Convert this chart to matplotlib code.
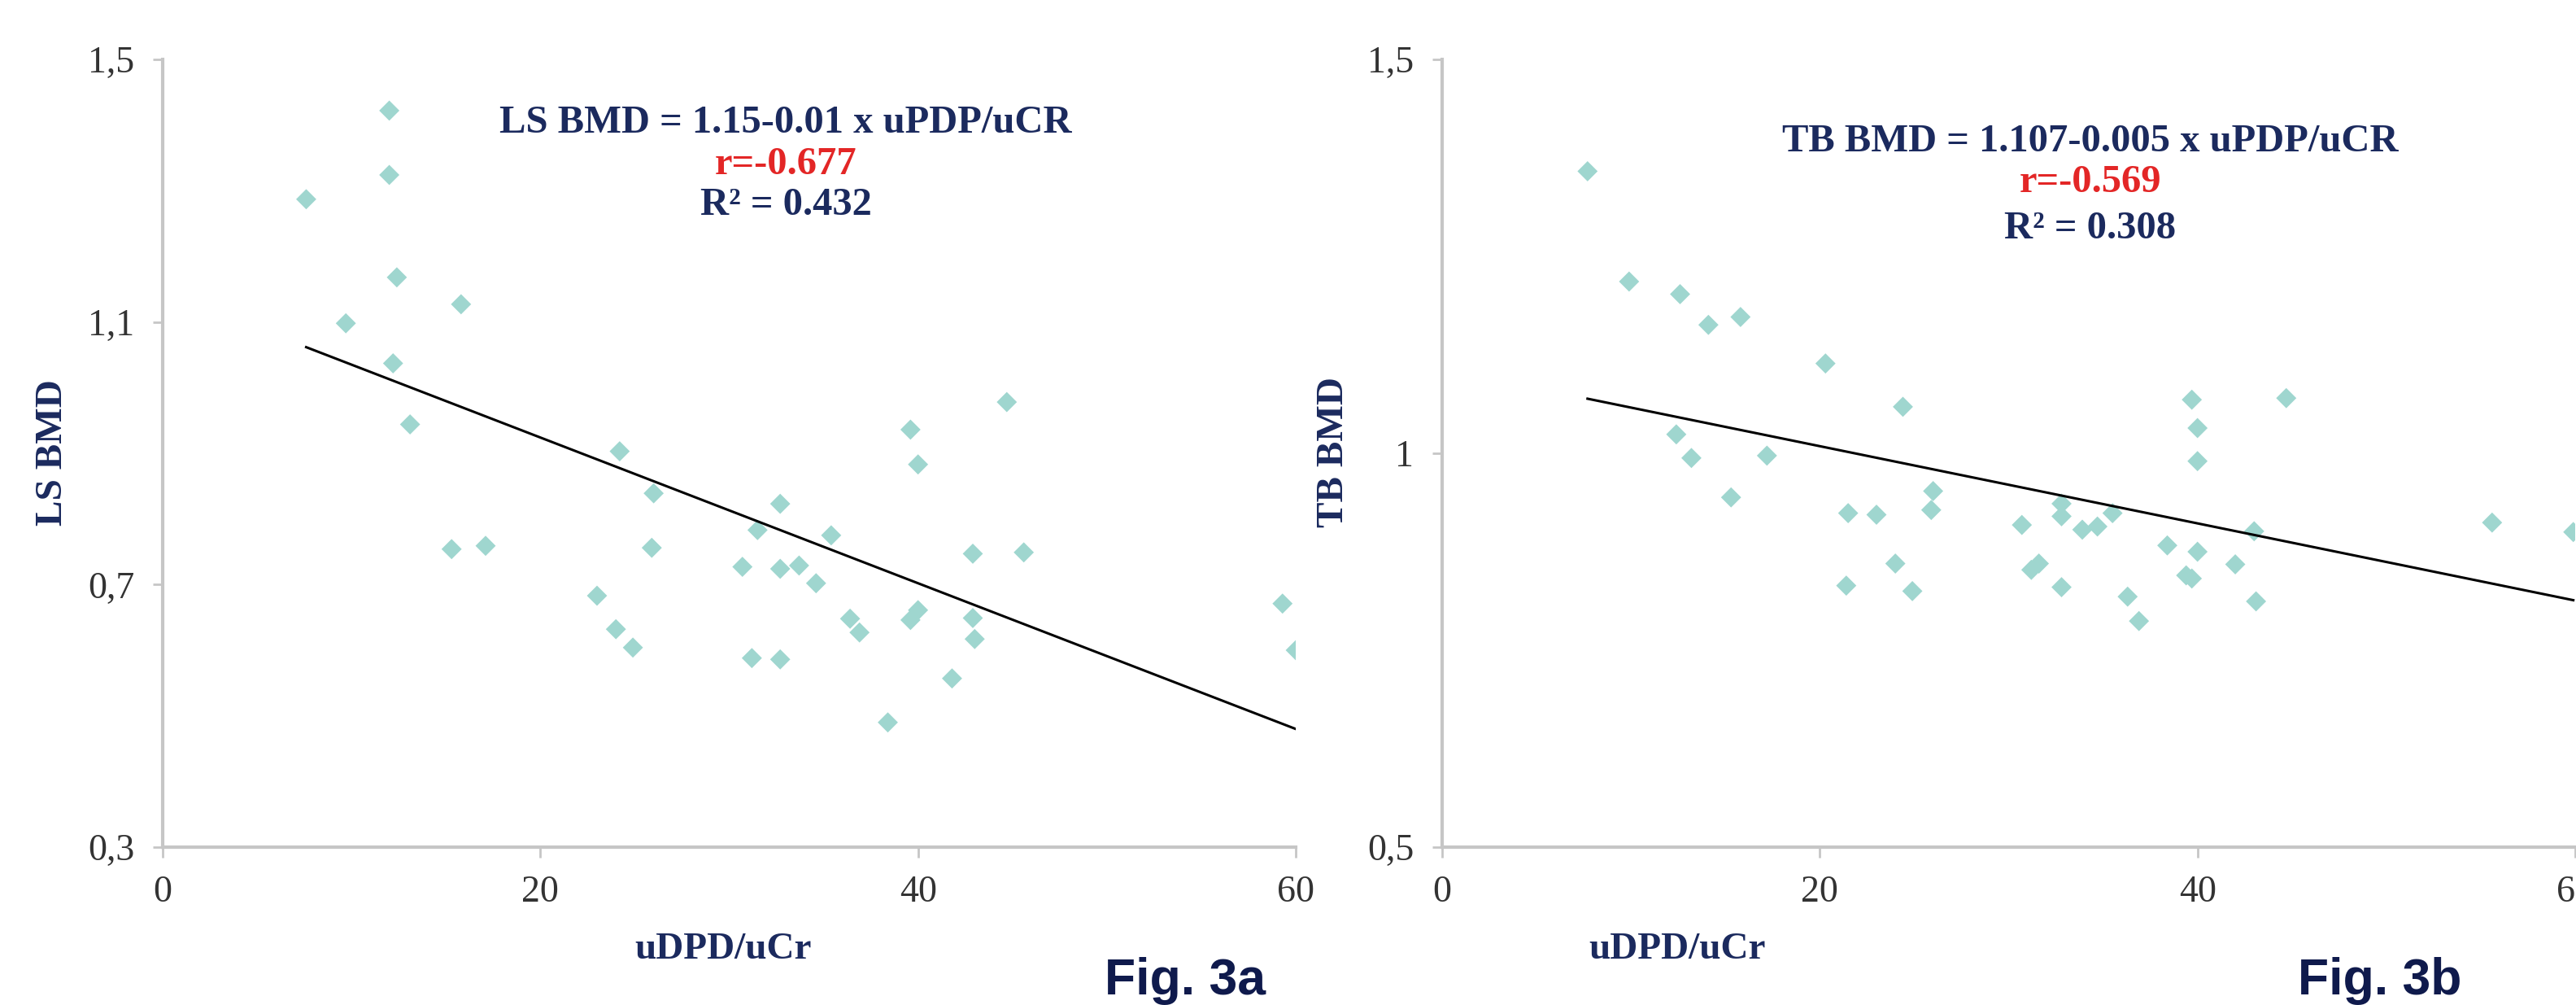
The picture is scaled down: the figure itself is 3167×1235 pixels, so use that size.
import matplotlib
matplotlib.use("Agg")
import matplotlib.pyplot as plt
import numpy as np

# Fig. 3a: lumbar spine BMD against uDPD/uCr
ls_x = [7.6, 12.0, 12.0, 12.4, 15.8, 9.7, 12.2, 13.1, 24.2, 26.0,
        15.3, 17.1, 25.9, 23.0, 24.0, 24.9, 31.5, 32.7, 30.7, 32.7,
        33.7, 34.6, 35.4, 31.2, 32.7, 36.4, 36.9, 38.4, 39.6, 40.0,
        39.6, 40.0, 41.8, 42.9, 42.9, 43.0, 44.7, 45.6, 59.3, 60.0]
ls_y = [1.287, 1.422, 1.324, 1.168, 1.127, 1.098, 1.037, 0.944, 0.903, 0.839,
        0.754, 0.759, 0.756, 0.683, 0.632, 0.604, 0.783, 0.823, 0.727, 0.724,
        0.729, 0.702, 0.775, 0.588, 0.586, 0.648, 0.627, 0.490, 0.936, 0.883,
        0.646, 0.661, 0.557, 0.747, 0.649, 0.617, 0.978, 0.749, 0.671, 0.600]
ls_fit = (1.146, -0.0111)  # intercept, slope of the drawn trend line

# Fig. 3b: total body BMD against uDPD/uCr
tb_x = [7.7, 9.9, 12.6, 14.1, 15.8, 20.3, 24.4, 12.4, 13.2, 17.2,
        15.3, 26.0, 25.9, 21.5, 23.0, 24.0, 21.4, 24.9, 30.7, 32.8,
        32.8, 33.9, 34.7, 35.5, 31.2, 31.6, 32.8, 36.3, 36.9, 38.4,
        39.7, 40.0, 40.0, 39.4, 39.7, 40.0, 42.0, 43.0, 43.1, 44.7,
        55.6, 59.9]
tb_y = [1.358, 1.218, 1.202, 1.163, 1.173, 1.114, 1.059, 1.024, 0.994, 0.997,
        0.944, 0.952, 0.928, 0.924, 0.922, 0.860, 0.832, 0.825, 0.909, 0.936,
        0.920, 0.903, 0.907, 0.924, 0.852, 0.860, 0.830, 0.818, 0.787, 0.883,
        1.068, 1.032, 0.990, 0.845, 0.841, 0.875, 0.859, 0.901, 0.812, 1.070,
        0.912, 0.900]
tb_fit = (1.107, -0.0049)

ls_yticks = [0.3, 0.7, 1.1, 1.5]
ls_ylabels = ["0,3", "0,7", "1,1", "1,5"]
tb_yticks = [0.5, 1.0, 1.5]
tb_ylabels = ["0,5", "1", "1,5"]
xticks = [0, 20, 40, 60]

ls_eq = ["LS BMD = 1.15-0.01 x uPDP/uCR", "r=-0.677", "R\u00b2 = 0.432"]
tb_eq = ["TB BMD = 1.107-0.005 x uPDP/uCR", "r=-0.569", "R\u00b2 = 0.308"]

navy = "#1b2a5e"
red = "#e32626"
pt_col = "#9fd6cf"
axis_col = "#c6c6c6"
serif = "Liberation Serif"

W, H = 3167, 1235
fig = plt.figure(figsize=(W / 100, H / 100), dpi=100)

panels = [
    dict(rect=[200 / W, 1 - 1041 / H, 1393 / W, 968 / H], x=ls_x, y=ls_y, fit=ls_fit,
         yl=(0.3, 1.5), yt=ls_yticks, ytl=ls_ylabels, ylabel="LS BMD",
         eq=ls_eq, eqx=966, eqy=[151, 202, 252], ylab_x=65, fig_lab="Fig. 3a",
         fig_x=1358, xlab_x=889),
    dict(rect=[1773 / W, 1 - 1041 / H, 1393 / W, 968 / H], x=tb_x, y=tb_y, fit=tb_fit,
         yl=(0.5, 1.5), yt=tb_yticks, ytl=tb_ylabels, ylabel="TB BMD",
         eq=tb_eq, eqx=2570, eqy=[174, 224, 281], ylab_x=1640, fig_lab="Fig. 3b",
         fig_x=2825, xlab_x=2062),
]

for p in panels:
    ax = fig.add_axes(p["rect"])
    ax.scatter(p["x"], p["y"], marker="D", s=160, color=pt_col, edgecolor="none", zorder=3)
    # trend line over the data range
    b, k = p["fit"]
    xs = np.array([min(p["x"]), max(p["x"])])
    ax.plot(xs, b + k * xs, color="black", lw=2.2, zorder=4)
    ax.set_xlim(0, 60)
    ax.set_ylim(*p["yl"])
    ax.set_xticks(xticks)
    ax.set_xticklabels([str(t) for t in xticks], fontsize=33, family=serif, color="#333333")
    ax.set_yticks(p["yt"])
    ax.set_yticklabels(p["ytl"], fontsize=33, family=serif, color="#333333")
    ax.tick_params(axis="both", length=9, width=2, color=axis_col, pad=16)
    for s in ["top", "right"]:
        ax.spines[s].set_visible(False)
    for s in ["left", "bottom"]:
        ax.spines[s].set_color(axis_col)
        ax.spines[s].set_linewidth(3)
    ax.patch.set_alpha(0)

    fig.text(p["ylab_x"] / W, 1 - 556 / H, p["ylabel"], rotation=90, ha="center", va="center",
             fontsize=34, family=serif, weight="bold", color=navy)
    fig.text(p["xlab_x"] / W, 1 - 1167 / H, "uDPD/uCr", ha="center", va="center",
             fontsize=34, family=serif, weight="bold", color=navy)
    cols = [navy, red, navy]
    for line, yy, c in zip(p["eq"], p["eqy"], cols):
        fig.text(p["eqx"] / W, 1 - yy / H, line, ha="center", va="center",
                 fontsize=35, family=serif, weight="bold", color=c)
    fig.text(p["fig_x"] / W, 1 - 1222 / H, p["fig_lab"], ha="left", va="baseline",
             fontsize=45, family="Liberation Sans", weight="bold", color="#0f1a4c")

plt.savefig("out.png", dpi=100)
plt.close()
